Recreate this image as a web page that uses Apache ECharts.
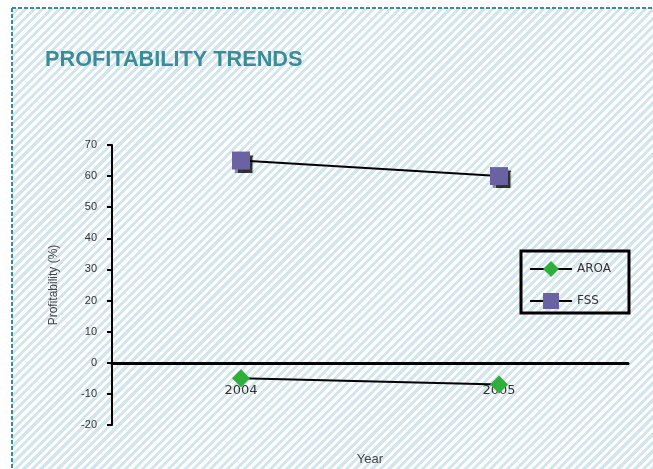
<!DOCTYPE html>
<html>
<head>
<meta charset="utf-8">
<script src="https://cdn.jsdelivr.net/npm/echarts@6/dist/echarts.min.js"></script>
<style>
  html, body { margin: 0; padding: 0; background: #fff; }
  #wrap { position: relative; width: 653px; height: 469px; }
  #stripes {
    position: absolute; left: 12px; top: 8px; right: 0; bottom: 0;
    background: repeating-linear-gradient(135deg, #ffffff 0 3px, #d3e6ee 3px 6px);
  }
  #chart { position: absolute; left: 0; top: 0; width: 653px; height: 469px; }
</style>
</head>
<body>
<div id="wrap">
  <div id="stripes"></div>
  <div id="chart"></div>
</div>
<script>
const years = ['2004', '2005']
const aroa = [-5, -7]
const fss = [65, 60]
const yTicks = { min: -20, max: 70, interval: 10 }

const chart = echarts.init(document.getElementById('chart'))

chart.setOption({
  animation: false,
  backgroundColor: 'transparent',
  title: {
    text: 'PROFITABILITY TRENDS',
    left: 40,
    top: 44,
    textStyle: {
      fontFamily: 'Liberation Sans',
      fontSize: 21.7,
      fontWeight: 'bold',
      color: '#3b8c97',
    },
  },
  graphic: [
    { type: 'line', shape: { x1: 12, y1: 8, x2: 653, y2: 8 }, style: { stroke: '#3b8c97', lineWidth: 2, lineDash: [4, 2] } },
    { type: 'line', shape: { x1: 12, y1: 8, x2: 12, y2: 469 }, style: { stroke: '#3b8c97', lineWidth: 2, lineDash: [4, 2] } },
  ],
  legend: {
    orient: 'vertical',
    left: 521,
    top: 251,
    padding: [10, 18, 4, 8],
    itemGap: 16,
    itemWidth: 42,
    itemHeight: 20,
    borderColor: '#000',
    borderWidth: 3,
    textStyle: { fontFamily: 'DejaVu Sans', fontSize: 12, color: '#333' },
    data: ['AROA', 'FSS'],
  },
  grid: {
    left: 112,
    right: 25,
    top: 145,
    bottom: 44,
    outerBoundsMode: 'none',
  },
  xAxis: {
    type: 'category',
    data: years,
    name: 'Year',
    nameLocation: 'middle',
    nameGap: 28,
    nameTextStyle: { fontFamily: 'Liberation Sans', fontSize: 13, color: '#444' },
    axisLine: { onZero: true, lineStyle: { color: '#000', width: 3 } },
    axisTick: { alignWithLabel: true, length: 4, lineStyle: { color: '#000', width: 2 } },
    axisLabel: { margin: -41, fontFamily: 'DejaVu Sans', fontSize: 13, color: '#333' },
  },
  yAxis: {
    type: 'value',
    min: yTicks.min,
    max: yTicks.max,
    interval: yTicks.interval,
    name: 'Profitability (%)',
    nameLocation: 'middle',
    nameGap: 52,
    nameTextStyle: { fontFamily: 'Liberation Sans', fontSize: 12, color: '#444' },
    splitLine: { show: false },
    axisLine: { show: true, lineStyle: { color: '#000', width: 2 } },
    axisTick: { show: true, length: 5, lineStyle: { color: '#000', width: 2 } },
    axisLabel: { margin: 15, fontFamily: 'Liberation Sans', fontSize: 11, color: '#333' },
  },
  series: [
    {
      name: 'AROA',
      type: 'line',
      data: aroa,
      symbol: 'diamond',
      symbolSize: 18,
      lineStyle: { color: '#000', width: 2 },
      itemStyle: { color: '#2fae3a' },
      z: 3,
    },
    {
      name: 'FSS',
      type: 'line',
      data: fss,
      symbol: 'rect',
      symbolSize: 18,
      lineStyle: { color: '#000', width: 2 },
      itemStyle: {
        color: '#6a63a3',
        shadowColor: 'rgba(0,0,0,0.8)',
        shadowBlur: 1,
        shadowOffsetX: 3,
        shadowOffsetY: 3,
      },
      z: 3,
    },
  ],
})
</script>
</body>
</html>
